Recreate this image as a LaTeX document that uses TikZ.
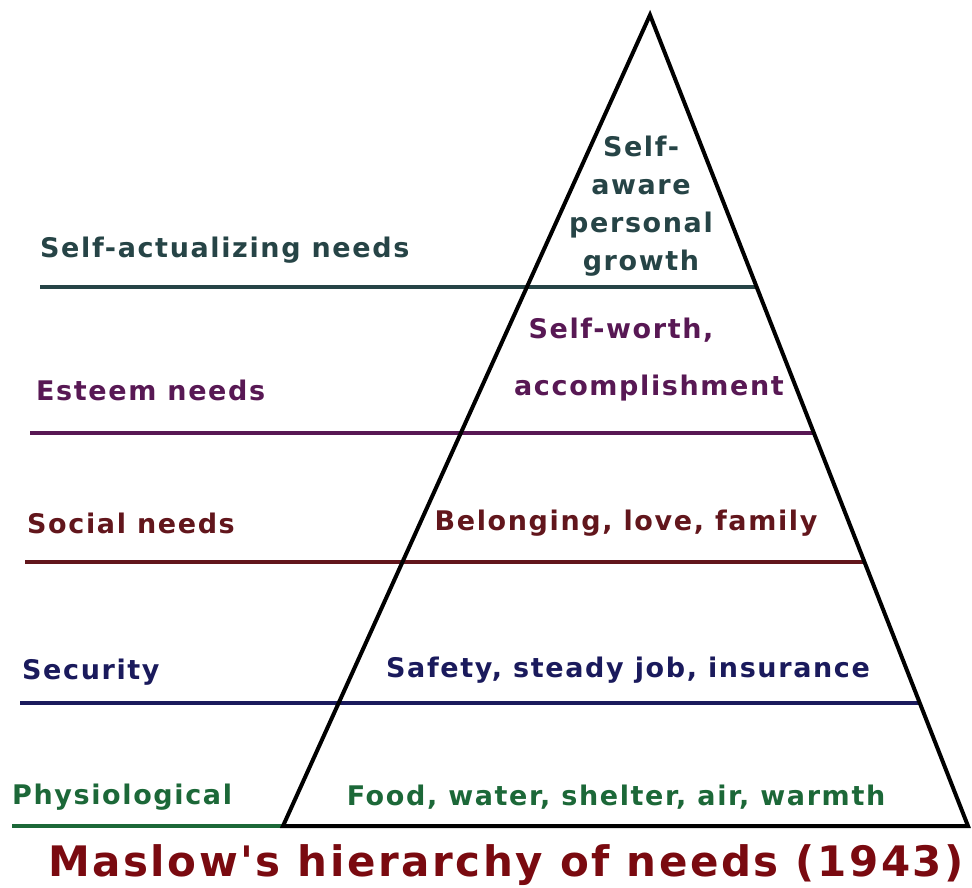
\documentclass[tikz,border=0pt]{standalone}
\usepackage{fontspec}
\setmainfont{DejaVu Sans}
\newfontfamily\needfont[LetterSpace=6.0]{DejaVu Sans}
\usetikzlibrary{calc}
\definecolor{selfcol}{RGB}{38,68,70}
\definecolor{esteemcol}{RGB}{88,24,84}
\definecolor{socialcol}{RGB}{98,22,28}
\definecolor{securcol}{RGB}{26,26,92}
\definecolor{physcol}{RGB}{28,104,56}
\definecolor{titlecol}{RGB}{122,10,16}
\tikzset{%
  needline/.style  = {line width=3.8pt},%
  pyramid/.style   = {line width=4pt, line join=miter, black},%
  needlabel/.style = {anchor=west, inner sep=0pt, font=\needfont\bfseries\fontsize{27}{30}\selectfont},%
  pyrtext/.style   = {inner sep=0pt, align=center, font=\needfont\bfseries\fontsize{27}{38}\selectfont}%
}

\begin{document}
\begin{tikzpicture}[x=1pt,y=-1pt]
	\useasboundingbox (0,0) rectangle (972,888);
	\coordinate (top) at (650,15);
	\coordinate (baseL) at (283,826);
	\coordinate (baseR) at (968,826);

	% one line per level, running out to the right side of the pyramid
	\foreach \nm/\xl/\yy/\col in {selfact/40/287/selfcol, esteem/30/433/esteemcol, social/25/562/socialcol, secur/20/703/securcol}{
		\pgfmathsetmacro\t{(\yy-15)/811}
		\coordinate (\nm L) at (\xl,\yy);
		\coordinate (\nm R) at ($(top)!\t!(baseR)$);
		\draw [needline,\col] (\nm L) -- (\nm R);
	}
	\coordinate (physL) at (12,826);
	\draw [needline,physcol] (physL) -- (baseL);

	\draw [pyramid] (top) -- (baseL) -- (baseR) -- cycle;

	% names of the levels
	\node [needlabel,text=selfcol]   (lselfact) at (40,250) {Self-actualizing needs};
	\node [needlabel,text=esteemcol] (lesteem)  at (36,390) {Esteem needs};
	\node [needlabel,text=socialcol] (lsocial)  at (27,523) {Social needs};
	\node [needlabel,text=securcol]  (lsecur)   at (22,672) {Security};
	\node [needlabel,text=physcol]   (lphys)    at (12,797) {Physiological};

	% what goes in each level
	\node [pyrtext,text=selfcol]   (pselfact) at (641,206) {Self-\\aware\\personal\\growth};
	\node [pyrtext,text=esteemcol] (pworth)   at (621,330) {Self-worth,};
	\node [pyrtext,text=esteemcol] (paccomp)  at (649,388) {accomplishment};
	\node [pyrtext,text=socialcol] (psocial)  at (626,523) {Belonging, love, family};
	\node [pyrtext,text=securcol]  (psecur)   at (628,670) {Safety, steady job, insurance};
	\node [pyrtext,text=physcol]   (pphys)    at (616,797) {Food, water, shelter, air, warmth};

	\node [inner sep=0pt,text=titlecol,font=\needfont\bfseries\fontsize{42}{46}\selectfont] (title) at (506,865) {Maslow's hierarchy of needs (1943)};
\end{tikzpicture}
\end{document}
